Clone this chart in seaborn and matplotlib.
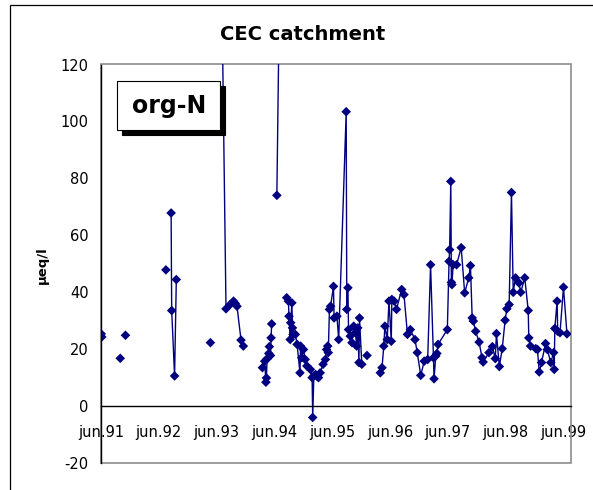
import matplotlib
matplotlib.use("Agg")
import matplotlib.pyplot as plt
import pandas as pd
import seaborn as sns
from matplotlib.patches import Rectangle

# sampling dates (decimal years) and org-N values (ueq/l); None marks a gap in the series
yr = [1991.42, 1991.43, None,
      1991.75, None,
      1991.84, None,
      1992.54, None,
      1992.63, 1992.64, 1992.69, 1992.72, None,
      1993.31, None,
      1993.44, 1993.58, 1993.65, 1993.71, 1993.74, 1993.77, 1993.84, 1993.88, None,
      1994.21, 1994.25, 1994.27, 1994.28, 1994.29, 1994.32, 1994.33, 1994.35, 1994.36, 1994.37, None,
      1994.46, 1994.57, None,
      1994.63, 1994.66, 1994.67, 1994.69, 1994.70, 1994.72, 1994.73, 1994.74, 1994.78, 1994.81,
      1994.86, 1994.87, 1994.89, 1994.92, 1994.95, 1994.98, 1995.04, 1995.07, 1995.08, 1995.10,
      1995.13, 1995.15, 1995.18, 1995.21, 1995.26, 1995.30, 1995.32, 1995.34, 1995.35, 1995.37,
      1995.39, 1995.44, 1995.45, 1995.50, 1995.53, 1995.66, 1995.67, 1995.69, 1995.70, 1995.73,
      1995.76, 1995.79, 1995.82, 1995.84, 1995.86, 1995.88, 1995.89, 1995.93, None,
      1996.02, None,
      1996.25, 1996.28, 1996.31, 1996.33, 1996.37, 1996.40, 1996.44, 1996.45, 1996.49, 1996.53,
      1996.62, 1996.66, 1996.72, 1996.77, 1996.85, 1996.89, 1996.95, 1997.01, 1997.07, 1997.12,
      1997.17, 1997.18, 1997.21, 1997.23, 1997.25, 1997.41, 1997.44, 1997.45, 1997.47, 1997.48,
      1997.49, 1997.51, 1997.57, 1997.65, 1997.71, 1997.78, 1997.81, 1997.84, 1997.86, 1997.90,
      1997.96, 1998.01, 1998.03, 1998.13, 1998.19, 1998.24, 1998.26, 1998.31, 1998.36, 1998.41,
      1998.44, 1998.48, 1998.52, 1998.55, 1998.59, 1998.65, 1998.68, 1998.75, 1998.81, 1998.82,
      1998.85, 1998.94, 1998.97, 1999.00, 1999.04, 1999.11, 1999.14, 1999.20, 1999.25, 1999.26,
      1999.27, 1999.31, 1999.32, 1999.36, 1999.42, 1999.48]

val = [25.3, 24.2, None,
       16.7, None,
       24.8, None,
       47.8, None,
       67.8, 33.5, 10.5, 44.4, None,
       22.2, None,
       250.0, 34.1, 35.6, 36.8, 36.0, 35.0, 23.1, 21.0, None,
       13.4, 15.7, 8.3, 9.8, 16.5, 18.4, 20.8, 17.7, 23.9, 28.8, None,
       74.0, 250.0, None,
       38.0, 36.8, 31.5, 23.3, 29.2, 36.2, 27.4, 25.1, 25.1, 21.6,
       11.6, 21.0, 16.9, 19.8, 16.3, 14.0, 12.8, 9.9, -4.1, 10.5,
       11.0, 10.5, 9.9, 11.6, 14.6, 16.3, 19.8, 21.0, 18.7, 33.9,
       35.0, 42.0, 30.9, 31.5, 23.3, 103.4, 33.9, 41.5, 26.8, 24.5,
       22.2, 28.0, 25.7, 21.0, 27.4, 15.2, 30.9, 14.6, None,
       17.7, None,
       11.6, 13.4, 21.0, 28.0, 23.3, 36.8, 22.7, 37.4, 36.8, 33.9,
       40.9, 39.1, 25.1, 26.8, 23.3, 18.7, 10.7, 15.7, 16.3, 49.6,
       16.9, 9.5, 17.5, 18.4, 21.6, 26.8, 50.8, 54.9, 78.9, 43.4,
       42.6, 49.6, 49.6, 55.6, 39.7, 45.0, 49.3, 30.9, 29.8, 26.2,
       22.4, 16.9, 15.4, 18.7, 20.8, 16.6, 25.4, 13.8, 20.1, 30.1,
       34.1, 35.6, 75.0, 39.9, 45.0, 43.2, 39.9, 45.0, 33.5, 23.9,
       21.0, 20.1, 19.8, 11.9, 15.2, 21.9, 19.8, 15.2, 18.7, 12.8,
       27.2, 36.8, 26.2, 25.7, 41.7, 25.3]

tick_years = [1991, 1992, 1993, 1994, 1995, 1996, 1997, 1998, 1999]
tick_labels = ["jun.91", "jun.92", "jun.93", "jun.94", "jun.95",
               "jun.96", "jun.97", "jun.98", "jun.99"]

df = pd.DataFrame({"yr": yr, "val": val}, dtype=float)
df["seg"] = df["val"].isna().cumsum()
df = df.dropna()

sns.set_style("white")
plt.rcParams["font.family"] = ["DejaVu Sans"]
plt.rcParams["text.color"] = "black"
plt.rcParams["axes.unicode_minus"] = False

navy = "#000080"
fig = plt.figure(figsize=(5.93, 4.9), dpi=100)
ax = fig.add_axes([101 / 593, 27.3 / 490, 469.7 / 593, 398.2 / 490])

sns.lineplot(data=df, x="yr", y="val", units="seg", estimator=None, sort=False,
             color=navy, linewidth=1.0, ax=ax, legend=False)
sns.scatterplot(data=df, x="yr", y="val", marker="D", s=24, color=navy,
                edgecolor="none", ax=ax, legend=False, zorder=3)

ax.set_xlim(1991 + 5 / 12, 1999.545)
ax.set_ylim(-20, 120)
ax.set_xticks([y + 5 / 12 for y in tick_years], tick_labels)
ax.set_yticks(range(-20, 121, 20))
ax.set_xlabel("")
ax.set_ylabel("")

# plot area frame (grey) and axes lines (black, x axis crossing at 0)
ax.add_patch(Rectangle((0, 0), 1, 1, transform=ax.transAxes, fill=False,
                       ec="#8c8c8c", lw=1.2, zorder=1, clip_on=False))
for s in ["top", "right"]:
    ax.spines[s].set_visible(False)
ax.spines["left"].set_color("black")
ax.spines["left"].set_linewidth(1.0)
ax.spines["left"].set_zorder(4)
ax.spines["bottom"].set_position(("data", 0))
ax.spines["bottom"].set_color("black")
ax.spines["bottom"].set_linewidth(1.0)
ax.tick_params(axis="both", direction="inout", length=8, width=1.0,
               color="black", labelsize=10.5, labelcolor="black")
ax.tick_params(axis="x", pad=10)
ax.tick_params(axis="y", pad=5)

fig.text(303 / 593, 1 - 34 / 490, "CEC catchment", ha="center", va="center",
         fontsize=14, fontweight="bold", color="black")
fig.text(42.5 / 593, 1 - 265 / 490, "µeq/l", rotation=90, ha="center", va="center",
         fontsize=9.5, fontweight="bold", color="black")

# org-N label box with shadow
bx, by, bw, bh = 117.3 / 593, 1 - 130 / 490, 102.7 / 593, 49 / 490
fig.add_artist(Rectangle((bx + 4.5 / 593, by - 4.5 / 490), bw, bh, transform=fig.transFigure,
                         fc="black", ec="black", lw=0.8, zorder=5))
fig.add_artist(Rectangle((bx, by), bw, bh, transform=fig.transFigure,
                         fc="white", ec="black", lw=0.8, zorder=6))
fig.text(bx + bw / 2, by + bh / 2, "org-N", ha="center", va="center",
         fontsize=17, fontweight="bold", color="black", zorder=7)

# chart area border
fig.add_artist(Rectangle((10 / 593, -0.1), 1.0, 1.1 - 5 / 490, transform=fig.transFigure,
                         fill=False, ec="black", lw=0.9))

fig.savefig("out.png", dpi=100)
